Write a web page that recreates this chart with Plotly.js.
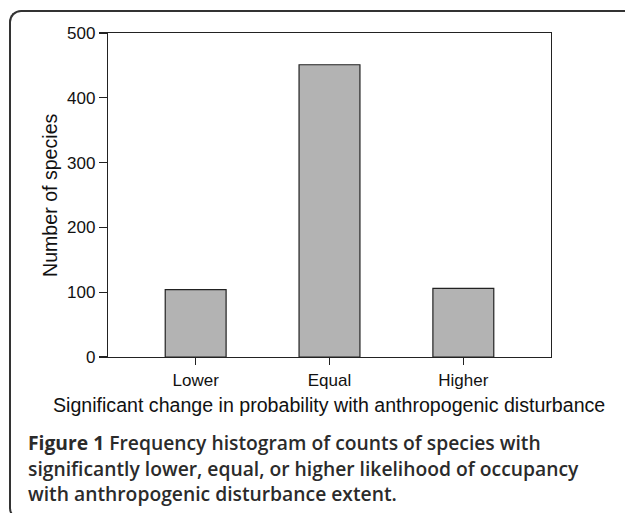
<!DOCTYPE html>
<html>
<head>
<meta charset="utf-8">
<script src="https://cdn.plot.ly/plotly-3.0.1.min.js"></script>
<style>
  html, body { margin: 0; padding: 0; background: #fff; }
  #wrap { position: relative; width: 625px; height: 513px; overflow: hidden; }
  #frame { position: absolute; left: 9px; top: 10px; width: 640px; height: 510px;
           border-left: 2px solid #333; border-top: 2px solid #333; border-bottom: 2px solid #333;
           border-radius: 12px; box-sizing: border-box; pointer-events: none; }
  #chart { position: absolute; left: 0; top: 0; width: 625px; height: 513px; }
</style>
</head>
<body>
<div id="wrap">
  <div id="chart"></div>
  <div id="frame"></div>
</div>
<script>
const categories = ["Lower", "Equal", "Higher"];
const counts = [104, 451, 106];
const yTicks = [0, 100, 200, 300, 400, 500];
const xTitle = "Significant change in probability with anthropogenic disturbance";
const yTitle = "Number of species";
const captionLines = [
  "<b>Figure 1</b> Frequency histogram of counts of species with",
  "significantly lower, equal, or higher likelihood of occupancy",
  "with anthropogenic disturbance extent."
];

const M = {l: 108, r: 74, t: 33, b: 156};
const H = 513, plotH = H - M.t - M.b;
function py(pix) { return (H - M.b - pix) / plotH; }
function px(pix) { return (pix - M.l) / (625 - M.l - M.r); }

const trace = {
  type: "bar",
  x: categories,
  y: counts,
  marker: {color: "#b3b3b3", line: {color: "#222", width: 1.2}},
  width: 0.455,
  hoverinfo: "none"
};

const annotations = captionLines.map((t, i) => ({
  text: t, xref: "paper", yref: "paper",
  x: px(26), y: py(442 + 26 * i), xanchor: "left", yanchor: "middle",
  showarrow: false, align: "left",
  font: {family: "Open Sans", size: 19.3, color: "#2b2b2b", weight: 600}
}));
annotations.push({
  text: xTitle, xref: "paper", yref: "paper",
  x: px(329), y: py(405), xanchor: "center", yanchor: "middle", showarrow: false,
  font: {family: "Liberation Sans, Arial", size: 19.6, color: "#111"}
});
annotations.push({
  text: yTitle, xref: "paper", yref: "paper", textangle: -90,
  x: px(50), y: py(195), xanchor: "center", yanchor: "middle", showarrow: false,
  font: {family: "Liberation Sans, Arial", size: 19.6, color: "#111"}
});

const layout = {
  width: 625, height: 513,
  margin: M,
  paper_bgcolor: "rgba(0,0,0,0)",
  plot_bgcolor: "#fff",
  showlegend: false,
  font: {family: "Liberation Sans, Arial", size: 17, color: "#111"},
  xaxis: {
    type: "category",
    range: [-0.655, 2.655],
    showgrid: false, zeroline: false,
    showline: true, linecolor: "#222", linewidth: 1.2, mirror: true,
    ticks: "outside", ticklen: 7, tickcolor: "#222", tickwidth: 1.2,
    tickfont: {size: 17}
  },
  yaxis: {
    range: [0, 500],
    tickvals: yTicks,
    showgrid: false, zeroline: false,
    showline: true, linecolor: "#222", linewidth: 1.2, mirror: true,
    ticks: "outside", ticklen: 8, tickcolor: "#222", tickwidth: 1.2,
    tickfont: {size: 17}
  },
  annotations: annotations
};

Plotly.newPlot("chart", [trace], layout, {displayModeBar: false, staticPlot: true});
</script>
</body>
</html>
